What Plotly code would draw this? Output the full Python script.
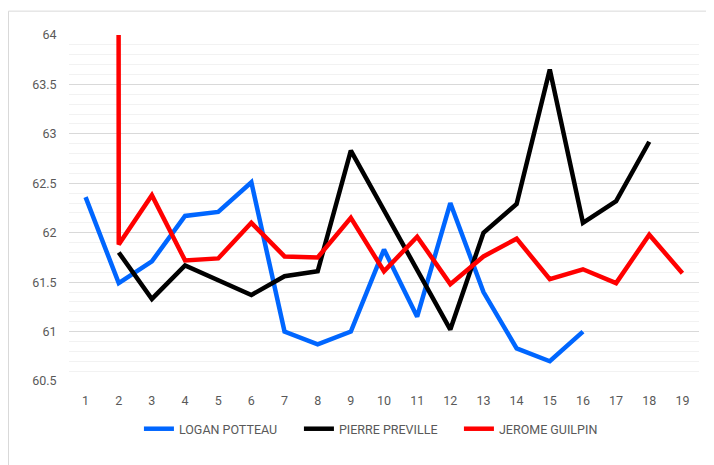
import plotly.graph_objects as go

rounds = list(range(1, 20))

logan = [62.36, 61.49, 61.71, 62.17, 62.21, 62.51, 61.00, 60.87, 61.00, 61.83,
         61.15, 62.30, 61.40, 60.83, 60.70, 61.00]
pierre = [None, 61.80, 61.33, 61.67, 61.52, 61.37, 61.56, 61.61, 62.83, 62.23,
          61.62, 61.02, 62.00, 62.29, 63.65, 62.10, 62.32, 62.92]
# first value of Jerome is far off the scale (clipped at the top, as in the original)
jerome = [618.8, 61.88, 62.38, 61.72, 61.74, 62.10, 61.76, 61.75, 62.15, 61.61,
          61.96, 61.48, 61.76, 61.94, 61.53, 61.63, 61.49, 61.98, 61.59]

names = ["LOGAN POTTEAU", "PIERRE PREVILLE", "JEROME GUILPIN"]
colors = ["#0066ff", "#000000", "#ff0000"]

fig = go.Figure()
for name, vals, col in zip(names, [logan, pierre, jerome], colors):
    fig.add_trace(go.Scatter(x=rounds[:len(vals)], y=vals, mode="lines", name=name,
                             line=dict(color=col, width=4.5)))

# page body has an 8px margin, so the figure is a bit smaller than the window
fig.update_layout(
    width=706, height=457,
    margin=dict(l=61, r=15, t=27, b=84),
    paper_bgcolor="white", plot_bgcolor="white",
    font=dict(family="Roboto", size=12.5, color="#595959"),
    showlegend=True,
    legend=dict(orientation="h", x=0.111, xanchor="left", y=-0.139, yanchor="middle",
                font=dict(size=12.5, color="#595959"), itemwidth=30,
                entrywidth=115, entrywidthmode="pixels"),
    shapes=[dict(type="rect", xref="paper", yref="paper", x0=-0.096, x1=1.2, y0=-0.4, y1=1.069,
                 line=dict(color="#d9d9d9", width=1), layer="below")],
)
fig.update_xaxes(range=[0.5, 19.5], dtick=1, showgrid=False, zeroline=False,
                 showline=False, ticks="outside", ticklen=8, tickcolor="rgba(0,0,0,0)")
fig.update_yaxes(range=[60.5, 64], dtick=0.5, showgrid=True, gridcolor="#d9d9d9", gridwidth=1,
                 zeroline=False, showline=False, ticks="outside", ticklen=9,
                 tickcolor="rgba(0,0,0,0)",
                 minor=dict(dtick=0.1, showgrid=True, gridcolor="#f2f2f2", gridwidth=1))

fig.write_html("out.html")
